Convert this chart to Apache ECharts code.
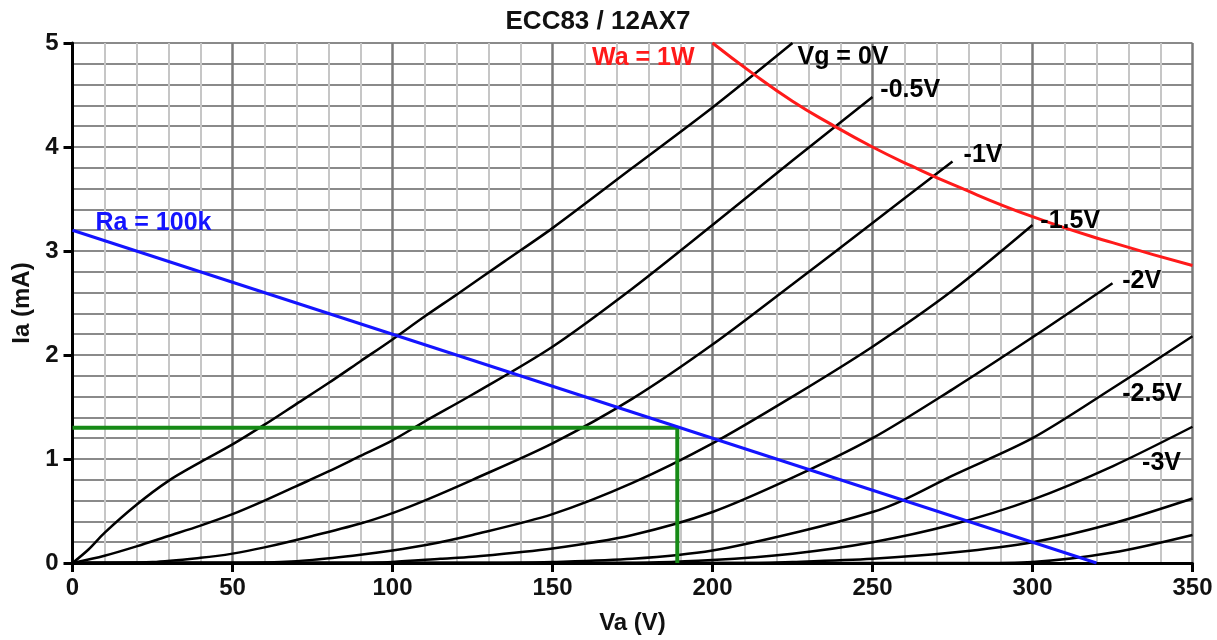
<!DOCTYPE html>
<html>
<head>
<meta charset="utf-8">
<title>ECC83 / 12AX7</title>
<script src="https://cdn.jsdelivr.net/npm/echarts@6/dist/echarts.min.js"></script>
<style>
html, body { margin: 0; padding: 0; background: #fff; }
#main { width: 1217px; height: 640px; }
</style>
</head>
<body>
<div id="main"></div>
<script>
// anode characteristics, [Va (V), Ia (mA)]
var vg0   = [[0,0],[5,0.13],[10,0.29],[20,0.56],[30,0.79],[40,0.97],[50,1.14],[60,1.33],[70,1.53],[80,1.73],[90,1.94],[100,2.15],[110,2.37],[120,2.58],[135,2.9],[150,3.22],[175,3.8],[200,4.38],[225,5.0]];
var vgm05 = [[0,0],[10,0.07],[20,0.16],[30,0.26],[40,0.36],[50,0.47],[60,0.6],[70,0.74],[80,0.88],[90,1.03],[100,1.18],[110,1.36],[125,1.62],[150,2.08],[175,2.64],[200,3.25],[225,3.87],[250,4.48]];
var vgm1  = [[0,0],[25,0.01],[40,0.05],[50,0.09],[60,0.15],[75,0.26],[90,0.38],[100,0.48],[110,0.6],[125,0.8],[150,1.15],[175,1.58],[200,2.1],[225,2.68],[250,3.27],[275,3.86]];
var vgm15 = [[0,0],[50,0],[65,0.01],[75,0.03],[90,0.08],[100,0.12],[110,0.17],[125,0.27],[150,0.47],[175,0.77],[200,1.15],[225,1.6],[250,2.08],[275,2.62],[300,3.25]];
var vgm2  = [[0,0],[90,0],[100,0.01],[115,0.04],[125,0.06],[150,0.14],[175,0.27],[200,0.49],[225,0.82],[250,1.2],[275,1.67],[300,2.17],[325,2.69]];
var vgm25 = [[0,0],[130,0],[150,0.01],[175,0.04],[200,0.12],[227,0.3],[250,0.49],[260,0.61],[275,0.84],[300,1.2],[325,1.68],[350,2.18]];
var vgm3  = [[0,0],[170,0],[200,0.03],[225,0.09],[250,0.2],[275,0.37],[300,0.61],[325,0.93],[350,1.31]];
var vgm35 = [[0,0],[210,0],[225,0.01],[250,0.04],[275,0.1],[300,0.2],[325,0.38],[350,0.62]];
var vgm4  = [[0,0],[280,0],[300,0.01],[325,0.1],[350,0.27]];

// load line, max dissipation, operating point
var loadLine  = [[0,3.2],[320,0]];
var powerLine = [[200,5],[212,4.72],[225,4.44],[237,4.22],[250,4],[262,3.82],[275,3.64],[300,3.33],[325,3.08],[350,2.86]];
var opPoint   = [[0,1.3],[189,1.3],[189,0]];

// text labels [Va, Ia, text]
var curveLabels = [[226.4,4.86,'Vg = 0V'],[252.3,4.55,'-0.5V'],[278.3,3.92,'-1V'],[302.3,3.29,'-1.5V'],[327.9,2.71,'-2V'],[327.9,1.62,'-2.5V'],[334.1,0.96,'-3V']];
var loadLabel   = [[7.0,3.27,'Ra = 100k']];
var powerLabel  = [[162.2,4.85,'Wa = 1W']];

var FONT = '"Liberation Sans", Arial, sans-serif';
var curves = [vg0, vgm05, vgm1, vgm15, vgm2, vgm25, vgm3, vgm35, vgm4];

var myChart = echarts.init(document.getElementById('main'));

var series = [];
curves.forEach(function (c) {
    series.push({
        type: 'line',
        data: c,
        smooth: 0.3,
        showSymbol: false,
        lineStyle: { color: '#000', width: 2.5 },
        z: 3
    });
});
series.push({ type: 'line', data: opPoint, showSymbol: false, lineStyle: { color: '#168a16', width: 4 }, z: 4 });
series.push({ type: 'line', data: loadLine, showSymbol: false, lineStyle: { color: '#1414ff', width: 3 }, z: 5 });
series.push({ type: 'line', data: powerLine, smooth: true, showSymbol: false, lineStyle: { color: '#ff1a1a', width: 3 }, z: 5 });

function labelSeries(data, color) {
    return {
        type: 'scatter',
        data: data,
        symbolSize: 1,
        itemStyle: { color: 'transparent', opacity: 1 },
        label: {
            show: true,
            position: 'right',
            distance: 0,
            formatter: function (p) { return p.data[2]; },
            color: color,
            opacity: 1,
            fontSize: 25,
            fontWeight: 'bold',
            fontFamily: FONT
        },
        z: 6
    };
}
series.push(labelSeries(curveLabels, '#000'));
series.push(labelSeries(loadLabel, '#1414ff'));
series.push(labelSeries(powerLabel, '#ff1a1a'));

var option = {
    animation: false,
    title: {
        text: 'ECC83 / 12AX7',
        left: 598,
        top: 9,
        textAlign: 'center',
        padding: 0,
        textStyle: { fontSize: 26, fontWeight: 'bold', color: '#111', fontFamily: FONT }
    },
    grid: { left: 72.5, right: 24.5, top: 43, bottom: 72.5 },
    xAxis: {
        type: 'value',
        min: 0, max: 350, interval: 50,
        name: 'Va (V)',
        nameLocation: 'middle',
        nameGap: 48,
        nameTextStyle: { fontSize: 24, fontWeight: 'bold', color: '#111', fontFamily: FONT },
        axisLine: { lineStyle: { color: '#000', width: 3 } },
        axisTick: { length: 9, lineStyle: { color: '#000', width: 3 } },
        axisLabel: { fontSize: 24, fontWeight: 'bold', color: '#111', margin: 13, fontFamily: FONT },
        splitLine: { show: true, lineStyle: { color: '#7a7a7a', width: 2.5 } },
        minorTick: { show: false, splitNumber: 5 },
        minorSplitLine: { show: true, lineStyle: { color: '#c6c6c6', width: 2 } }
    },
    yAxis: {
        type: 'value',
        min: 0, max: 5, interval: 1,
        name: 'Ia (mA)',
        nameLocation: 'middle',
        nameGap: 36,
        nameTextStyle: { fontSize: 24, fontWeight: 'bold', color: '#111', fontFamily: FONT },
        axisLine: { show: true, lineStyle: { color: '#000', width: 3 } },
        axisTick: { show: true, length: 9, lineStyle: { color: '#000', width: 3 } },
        axisLabel: { fontSize: 24, fontWeight: 'bold', color: '#111', margin: 14, fontFamily: FONT },
        splitLine: { show: true, lineStyle: { color: '#8a8a8a', width: 2 } },
        minorTick: { show: false, splitNumber: 5 },
        minorSplitLine: { show: true, lineStyle: { color: '#8a8a8a', width: 2 } }
    },
    series: series
};
myChart.setOption(option);
</script>
</body>
</html>
